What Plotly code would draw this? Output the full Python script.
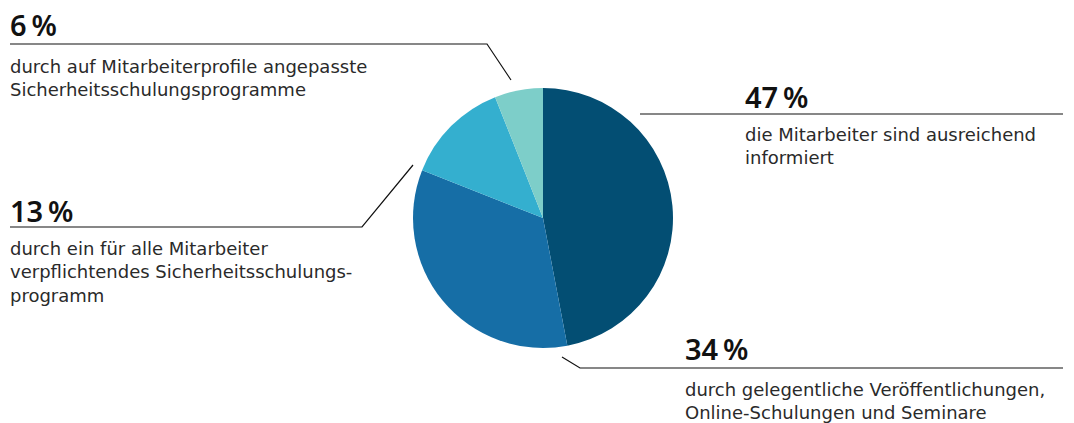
import plotly.graph_objects as go

# Survey shares: how employees are informed about IT security
shares = [47, 34, 13, 6]
pct_labels = ["47\u202f%", "34\u202f%", "13\u202f%", "6\u202f%"]
descriptions = [
    "die Mitarbeiter sind ausreichend<br>informiert",
    "durch gelegentliche Veröffentlichungen,<br>Online-Schulungen und Seminare",
    "durch ein für alle Mitarbeiter<br>verpflichtendes Sicherheitsschulungs-<br>programm",
    "durch auf Mitarbeiterprofile angepasste<br>Sicherheitsschulungsprogramme",
]
colors = ["#034e73", "#166ea6", "#34afcf", "#7dcec9"]

W, H = 1074, 423


def px(x):
    return x / W


def py(y):
    return 1 - y / H


fig = go.Figure(
    go.Pie(
        values=shares,
        labels=descriptions,
        sort=False,
        direction="clockwise",
        rotation=0,
        marker=dict(colors=colors, line=dict(width=0)),
        textinfo="none",
        hoverinfo="percent",
        showlegend=False,
        domain=dict(x=[px(413), px(673)], y=[py(348), py(88)]),
    )
)

# Callout layout: (number x, number y, text y, leader polyline)
callouts = [
    (745, 96, 146, [(640, 114), (1063, 114)]),
    (685, 348, 401, [(562, 357), (580, 368), (1063, 368)]),
    (10, 210, 272, [(10, 227), (362, 227), (413, 165)]),
    (10, 25, 78, [(10, 44), (487, 44), (511, 80)]),
]

annotations = []
shapes = []
for (x, ny, ty, pts), num, desc in zip(callouts, pct_labels, descriptions):
    annotations.append(dict(
        x=px(x - 2), y=py(ny), xref="paper", yref="paper",
        xanchor="left", yanchor="middle", showarrow=False,
        text=num, align="left",
        font=dict(family="Noto Sans", size=29, color="#111111", weight=600),
    ))
    annotations.append(dict(
        x=px(x - 2), y=py(ty), xref="paper", yref="paper",
        xanchor="left", yanchor="middle", showarrow=False,
        text=desc, align="left",
        font=dict(family="DejaVu Sans", size=18, color="#2a2a2a"),
    ))
    path = "M " + " L ".join(f"{px(a)},{py(b)}" for a, b in pts)
    shapes.append(dict(
        type="path", path=path, xref="paper", yref="paper",
        line=dict(color="#111111", width=1.2),
    ))

fig.update_layout(
    width=W, height=H,
    margin=dict(l=0, r=0, t=0, b=0),
    paper_bgcolor="white",
    plot_bgcolor="white",
    annotations=annotations,
    shapes=shapes,
)

fig.write_html("out.html")
